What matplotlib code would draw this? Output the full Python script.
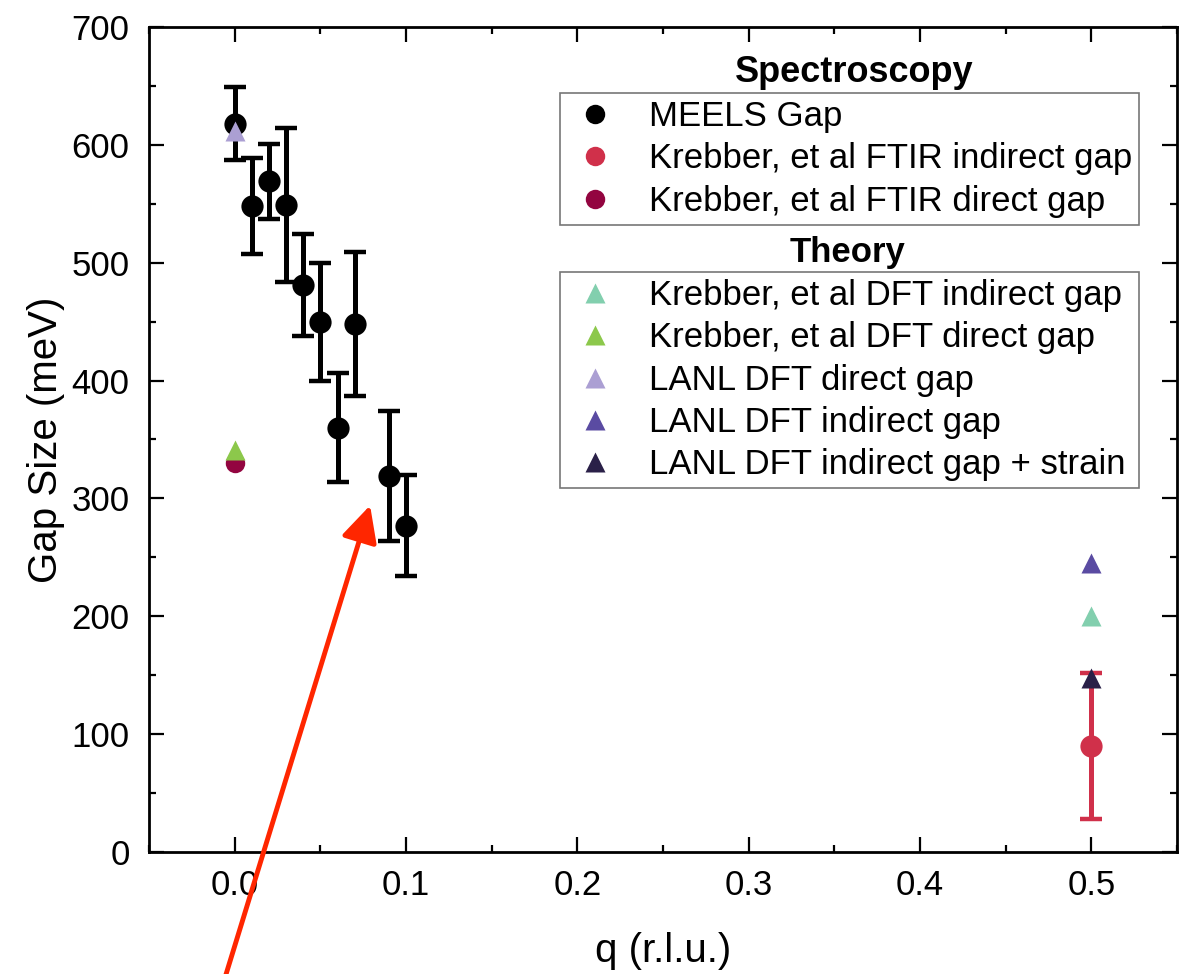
import matplotlib
matplotlib.use("Agg")
import matplotlib.pyplot as plt
from matplotlib.ticker import MultipleLocator
from matplotlib.lines import Line2D

plt.rcParams['font.family'] = ['Liberation Sans', 'DejaVu Sans']

# ---- data ----
meels_q = [0.00, 0.01, 0.02, 0.03, 0.04, 0.05, 0.06, 0.07, 0.09, 0.10]
meels_gap = [618, 548, 569, 549, 481, 450, 360, 448, 319, 277]
meels_err = [31, 41, 32, 65, 43, 50, 46, 61, 55, 43]

ftir_ind_q = [0.5]
ftir_ind_gap = [90]
ftir_ind_err = [62]

ftir_dir_q = [0.0]
ftir_dir_gap = [330]

kdft_ind_q = [0.5]
kdft_ind_gap = [200]

kdft_dir_q = [0.0]
kdft_dir_gap = [341]

lanl_dir_q = [0.0]
lanl_dir_gap = [612]

lanl_ind_q = [0.5]
lanl_ind_gap = [245]

lanl_strain_q = [0.5]
lanl_strain_gap = [148]

labels_spec = ["MEELS Gap", "Krebber, et al FTIR indirect gap", "Krebber, et al FTIR direct gap"]
labels_theory = ["Krebber, et al DFT indirect gap", "Krebber, et al DFT direct gap",
                 "LANL DFT direct gap", "LANL DFT indirect gap", "LANL DFT indirect gap + strain"]

c_meels = 'black'
c_ftir_ind = '#d0304a'
c_ftir_dir = '#930540'
c_kdft_ind = '#82cfae'
c_kdft_dir = '#8cc84b'
c_lanl_dir = '#ab9fd3'
c_lanl_ind = '#5a4ba2'
c_lanl_str = '#2a2048'

fig = plt.figure(figsize=(11.83, 9.74), dpi=100)
ax = fig.add_axes([0.126, 0.1253, 0.869, 0.847])

tri_ms = 15
# theory triangles
ax.plot(kdft_ind_q, kdft_ind_gap, '^', color=c_kdft_ind, ms=tri_ms, mec='none', zorder=3)
ax.plot(kdft_dir_q, kdft_dir_gap, '^', color=c_kdft_dir, ms=tri_ms, mec='none', zorder=3)
ax.plot(lanl_ind_q, lanl_ind_gap, '^', color=c_lanl_ind, ms=tri_ms, mec='none', zorder=3)

# spectroscopy
ax.plot(ftir_dir_q, ftir_dir_gap, 'o', color=c_ftir_dir, ms=14, mec='none', zorder=2)
ax.errorbar(ftir_ind_q, ftir_ind_gap, yerr=ftir_ind_err, fmt='o', color=c_ftir_ind,
            ms=16, mec='none', elinewidth=3.6, capsize=8, capthick=3.2, zorder=2)
ax.plot(lanl_strain_q, lanl_strain_gap, '^', color=c_lanl_str, ms=tri_ms, mec='none', zorder=4)
ax.errorbar(meels_q, meels_gap, yerr=meels_err, fmt='o', color=c_meels,
            ms=16, mec='none', elinewidth=3.6, capsize=8, capthick=3.2, zorder=3)
ax.plot(lanl_dir_q, lanl_dir_gap, '^', color=c_lanl_dir, ms=tri_ms, mec='none', zorder=5)

ax.set_xlim(-0.05, 0.55)
ax.set_ylim(0, 700)
ax.xaxis.set_minor_locator(MultipleLocator(0.05))
ax.yaxis.set_major_locator(MultipleLocator(100))
ax.yaxis.set_minor_locator(MultipleLocator(50))
ax.set_xticks([0.0, 0.1, 0.2, 0.3, 0.4, 0.5])
ax.set_xticklabels(['0.0', '0.1', '0.2', '0.3', '0.4', '0.5'])

ax.tick_params(which='both', direction='in', top=True, right=True, width=1.6, labelsize=25)
ax.tick_params(axis='y', which='major', length=10.5, pad=14)
ax.tick_params(axis='x', which='major', length=10.5, pad=12)
ax.tick_params(which='minor', length=5)
for s in ax.spines.values():
    s.set_linewidth(2)

ax.set_xlabel('q (r.l.u.)', fontsize=29, labelpad=22)
ax.set_ylabel('Gap Size (meV)', fontsize=29, labelpad=5)

# legends
h_spec = [Line2D([], [], ls='none', marker='o', color=c, ms=14, mec='none')
          for c in (c_meels, c_ftir_ind, c_ftir_dir)]
h_th = [Line2D([], [], ls='none', marker='^', color=c, ms=14, mec='none')
        for c in (c_kdft_ind, c_kdft_dir, c_lanl_dir, c_lanl_ind, c_lanl_str)]

leg_kw = dict(fontsize=25, frameon=True, fancybox=False, framealpha=1, edgecolor='#777777',
              borderpad=0.2, labelspacing=0.27, handletextpad=0.75, handlelength=1.6,
              borderaxespad=0, mode='expand')
leg1 = ax.legend(h_spec, labels_spec, loc='upper left',
                 bbox_to_anchor=(0.400, 0.758, 0.563, 0.162), **leg_kw)
leg1.get_frame().set_linewidth(1.2)
ax.add_artist(leg1)
leg2 = ax.legend(h_th, labels_theory, loc='upper left',
                 bbox_to_anchor=(0.400, 0.44, 0.563, 0.263), **leg_kw)
leg2.get_frame().set_linewidth(1.2)

ax.text(0.6855, 0.945, 'Spectroscopy', transform=ax.transAxes, ha='center', va='center',
        fontsize=26, fontweight='bold')
ax.text(0.679, 0.727, 'Theory', transform=ax.transAxes, ha='center', va='center',
        fontsize=25, fontweight='bold')

# red annotation arrow
ax.annotate('', xy=(0.079, 294), xytext=(-0.0085, -120), xycoords='data', textcoords='data',
            arrowprops=dict(arrowstyle='-|>,head_length=1.1,head_width=0.55', lw=3.5,
                            color='#ff2600', mutation_scale=20, shrinkA=0, shrinkB=0),
            annotation_clip=False, zorder=10)

fig.savefig('out.png', dpi=100)
